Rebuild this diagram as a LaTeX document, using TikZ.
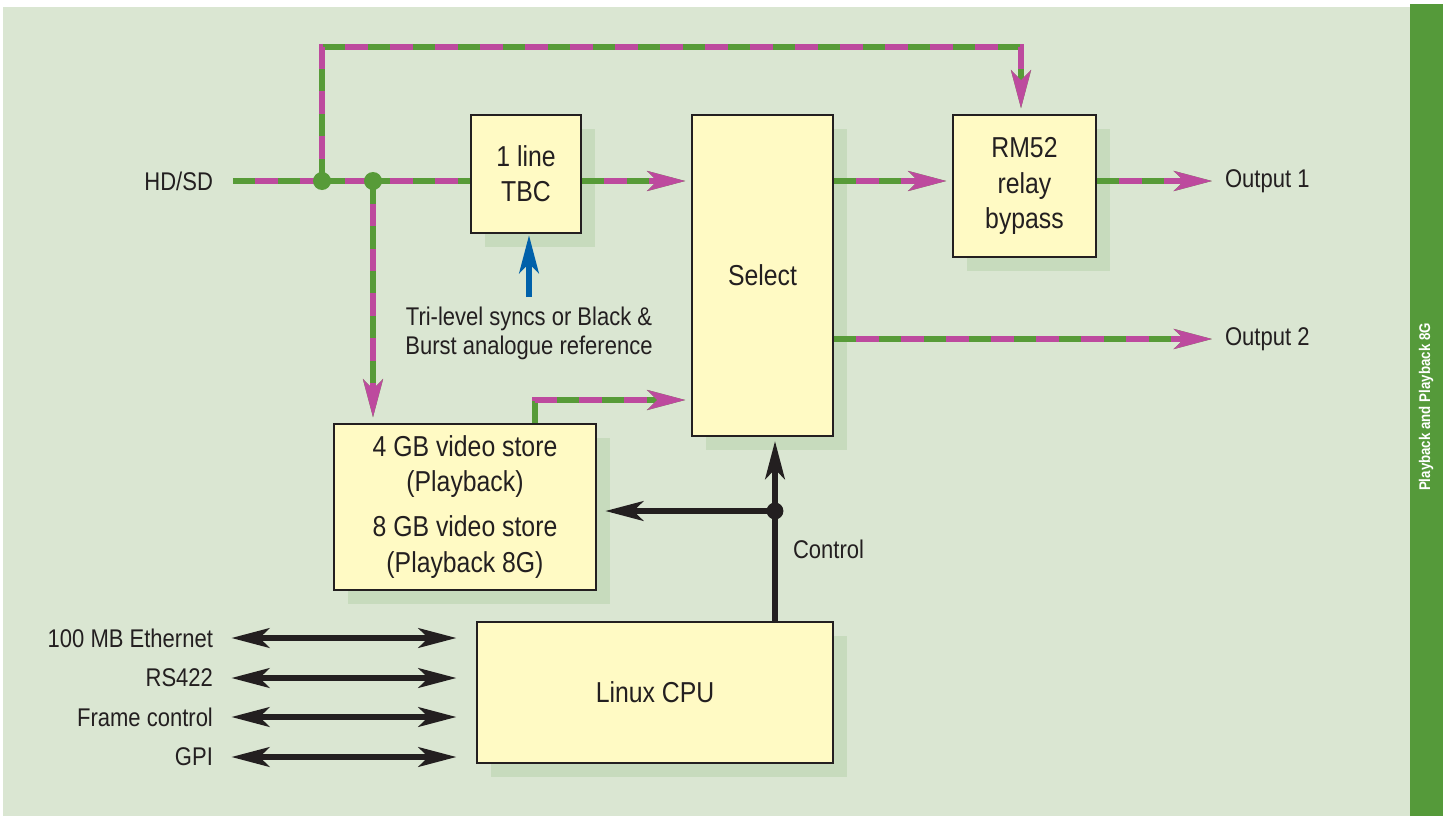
\documentclass[tikz,border=0pt]{standalone}
\usepackage{fontspec}
\setmainfont{Liberation Sans}[FakeStretch=0.86]
\usetikzlibrary{arrows.meta,shadows}

\definecolor{bggreen}{HTML}{DAE6D2}
\definecolor{shadowgreen}{HTML}{C7DBBD}
\definecolor{boxyellow}{HTML}{FFFAC4}
\definecolor{bargreen}{HTML}{559A3A}
\definecolor{siggreen}{HTML}{579B38}
\definecolor{sigmag}{HTML}{BD4A9E}
\definecolor{refblue}{HTML}{0061AA}
\definecolor{ink}{HTML}{231F20}

\tikzset{
  box/.style={draw=ink,line width=1.3pt,fill=boxyellow,align=center,
    font=\fontsize{20.5}{25}\selectfont,
    drop shadow={shadow xshift=10pt,shadow yshift=-10pt,fill=shadowgreen,opacity=1}},
  lbl/.style={inner sep=2pt,text=ink},
  tip/.style={-{Stealth[length=27pt,width=14pt,inset=7pt]}},
  sig/.style={line width=4pt,draw=sigmag,dash pattern=on 16pt off 16pt,dash phase=16pt,
    preaction={draw=siggreen,line width=4pt,solid}},
  sigarr/.style={sig,tip,shorten >=4pt},
  ctrl/.style={line width=3.7pt,draw=ink,tip,shorten >=4pt},
  dbl/.style={line width=3.7pt,draw=ink,
    {Stealth[length=27pt,width=14pt,inset=7pt]}-{Stealth[length=27pt,width=14pt,inset=7pt]},
    shorten <=11pt,shorten >=14pt}
}

\begin{document}
\begin{tikzpicture}[x=0.025cm,y=-0.025cm,font=\fontsize{18.2}{24}\selectfont,text=ink]
\useasboundingbox (0,0) rectangle (1443,816);
\fill[bggreen] (3,7) rectangle (1410,816);
\fill[bargreen] (1410,4) rectangle (1443,816);
\node[rotate=90,text=white,font=\fontsize{11}{13}\selectfont\bfseries] (side) at (1426,407) {Playback and Playback 8G};

\node[box,minimum width=2.75cm,minimum height=2.95cm] (tbc) at (526,174) {1 line\\TBC};
\node[box,minimum width=3.525cm,minimum height=8.025cm] (sel) at (762.5,275.5) {Select};
\node[box,minimum width=3.575cm,minimum height=3.55cm] (rm) at (1024.5,186) {RM52\\relay\\bypass};
\node[box,minimum width=6.55cm,minimum height=4.15cm] (store) at (465,507)
  {4 GB video store\\(Playback)\\[7pt]8 GB video store\\(Playback 8G)};
\node[box,minimum width=8.9cm,minimum height=3.525cm] (cpu) at (655,692.5) {Linux CPU};

\node[lbl,anchor=east] (hd) at (216,181) {HD/SD};
\node[lbl,anchor=west] (out1) at (1222,181) {Output 1};
\node[lbl,anchor=west] (out2) at (1222,339) {Output 2};
\node[lbl,anchor=west] (ctlabel) at (790,549) {Control};
\node[lbl,anchor=north,inner sep=7pt,align=center,font=\fontsize{18.2}{20.5}\selectfont] (ref) at (529,297)
  {Tri-level syncs or Black \&\\Burst analogue reference};

\coordinate (j1) at (322,181);
\coordinate (j2) at (373,181);
\coordinate (top) at (1021,47);
\coordinate (sp) at (535,400);
\coordinate (ctl) at (775,511);

\draw[sig,shorten <=12pt] (hd.east) -- (hd.east -| tbc.west);
\draw[sigarr] (j1) |- (top) -- (top |- rm.north);
\draw[sigarr] (j2) -- (j2 |- store.north);
\draw[sigarr] (tbc.east |- j2) -- (sel.west |- j2);
\draw[sigarr] (sel.east |- j2) -- (rm.west |- j2);
\draw[sigarr,shorten >=7pt] (rm.east |- j2) -- (out1.west);
\draw[sigarr,shorten >=7pt] (sel.east |- out2) -- (out2.west);
\draw[sigarr] (sp |- store.north) -- (sp) -- (sp -| sel.west);
\fill[siggreen] (j1) circle (6.4pt) (j2) circle (6.4pt);

\draw[line width=3.7pt,draw=refblue,tip,shorten >=1pt] (ref.north) -- (ref.north |- tbc.south);

\draw[ctrl,shorten >=3pt] (cpu.north -| ctl) -- (ctl |- sel.south);
\draw[ctrl,shorten >=6pt] (ctl) -- (ctl -| store.east);
\fill[ink] (ctl) circle (6pt);

\foreach \name/\y/\txt in {eth/638/100 MB Ethernet,rs/678/RS422,fc/717/Frame control,gpi/757/GPI}{
  \node[lbl,anchor=east] (\name) at (216,\y) {\txt};
  \draw[dbl] (\name.east) -- (\name.east -| cpu.west);
}
\end{tikzpicture}
\end{document}
